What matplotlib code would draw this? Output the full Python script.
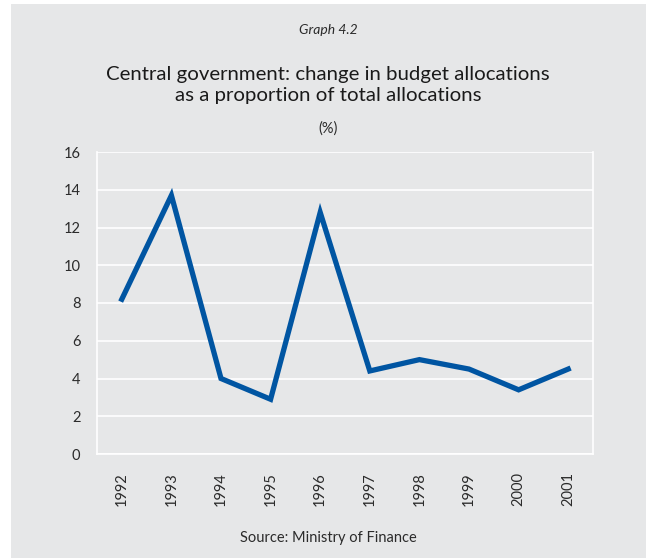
import numpy as np
import matplotlib.pyplot as plt
from matplotlib.patches import Rectangle

years = ['1992', '1993', '1994', '1995', '1996', '1997', '1998', '1999', '2000', '2001']
change_pct = [8.2, 13.7, 4.0, 2.9, 12.8, 4.4, 5.0, 4.5, 3.4, 4.5]
y_ticks = [0, 2, 4, 6, 8, 10, 12, 14, 16]

panel = '#e6e7e8'
line_blue = '#0055a2'
text_col = '#2b2b2b'

plt.rcParams['font.family'] = ['Lato', 'DejaVu Sans']

fig = plt.figure(figsize=(6.46, 5.58), dpi=100)
fig.patch.set_facecolor('white')
# grey panel behind everything
fig.add_artist(Rectangle((11 / 646, 0), 1 - 11 / 646, 1 - 4 / 558,
                         transform=fig.transFigure, facecolor=panel,
                         edgecolor='none', zorder=-10))

ax = fig.add_axes([97 / 646, 1 - 454 / 558, (593 - 97) / 646, (454 - 152) / 558])
ax.set_facecolor(panel)

x = np.arange(len(years))
ax.plot(x, change_pct, color=line_blue, lw=3.8, solid_joinstyle='miter', zorder=3)

ax.set_xlim(-0.5, len(years) - 0.5)
ax.set_ylim(0, 16)
ax.set_yticks(y_ticks)
ax.set_yticklabels([str(v) for v in y_ticks], fontsize=10.5, color=text_col)
ax.set_xticks(x)
ax.set_xticklabels(years, rotation=90, fontsize=10.5, color=text_col)
ax.tick_params(length=0)
ax.tick_params(axis='y', pad=12)
ax.tick_params(axis='x', pad=13)
ax.grid(axis='y', color='white', lw=1.2)
for s in ax.spines.values():
    s.set_color('white')
    s.set_linewidth(1.2)
ax.spines['top'].set_visible(False)

fig.text(328 / 646, 1 - 30 / 558, 'Graph 4.2', ha='center', va='center',
         fontsize=10, style='italic', color=text_col)
fig.text(328 / 646, 1 - 85 / 558,
         'Central government: change in budget allocations\nas a proportion of total allocations',
         ha='center', va='center', fontsize=14.7, color='#1a1a1a', linespacing=1.27)
fig.text(328 / 646, 1 - 129 / 558, '(%)', ha='center', va='center',
         fontsize=10.5, color=text_col)
fig.text(328 / 646, 1 - 538 / 558, 'Source: Ministry of Finance', ha='center',
         va='center', fontsize=10.5, color=text_col)

fig.savefig('out.png', dpi=100)
